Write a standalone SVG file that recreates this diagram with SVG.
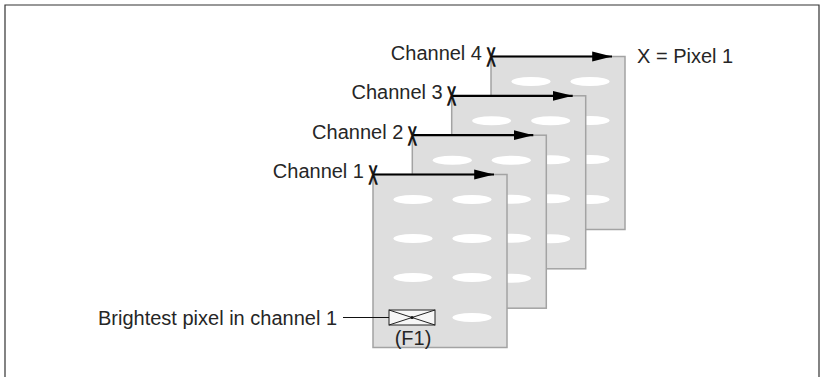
<svg xmlns="http://www.w3.org/2000/svg" width="824" height="377" viewBox="0 0 824 377">
<defs>
<style>
.t{font-family:"Liberation Sans",Arial,sans-serif;font-size:20px;fill:#262626}
.x{font-family:"Liberation Sans",Arial,sans-serif;font-size:26px;fill:#111;stroke:#111;stroke-width:1.4;text-anchor:middle}
.panel{fill:#dedede;stroke:#a3a3a3;stroke-width:1.5}
.dot{fill:#ffffff}
.arrow{stroke:#000;stroke-width:2.2;fill:none;marker-end:url(#ah)}
</style>
<marker id="ah" markerWidth="10" markerHeight="6" refX="9" refY="3" orient="auto" markerUnits="strokeWidth">
<path d="M0,0.75 L9,3 L0,5.25 Z" fill="#000"/>
</marker>
<g id="pix">
<ellipse cx="40" cy="25" rx="19.5" ry="4.5" class="dot"/>
<ellipse cx="99" cy="25" rx="19.5" ry="4.5" class="dot"/>
<ellipse cx="40" cy="64" rx="19.5" ry="4.5" class="dot"/>
<ellipse cx="99" cy="64" rx="19.5" ry="4.5" class="dot"/>
<ellipse cx="40" cy="103" rx="19.5" ry="4.5" class="dot"/>
<ellipse cx="99" cy="103" rx="19.5" ry="4.5" class="dot"/>
<ellipse cx="40" cy="143" rx="19.5" ry="4.5" class="dot"/>
<ellipse cx="99" cy="143" rx="19.5" ry="4.5" class="dot"/>
</g>
</defs>
<rect x="0" y="0" width="824" height="377" fill="#fff"/>
<path d="M5,380 V5 H819 V380" fill="none" stroke="#333" stroke-width="1.2"/>

<g id="channel4">
<rect class="panel" x="491" y="56.5" width="134" height="173"/>
<use href="#pix" x="491" y="56.5"/>
</g>
<g id="channel3">
<rect class="panel" x="451.7" y="95.8" width="134" height="173"/>
<use href="#pix" x="451.7" y="95.8"/>
</g>
<g id="channel2">
<rect class="panel" x="412.3" y="135.2" width="134" height="173"/>
<use href="#pix" x="412.3" y="135.2"/>
</g>
<g id="channel1">
<rect class="panel" x="373" y="174.5" width="134" height="173"/>
<ellipse cx="413" cy="199.5" rx="19.5" ry="4.5" class="dot"/>
<ellipse cx="472" cy="199.5" rx="19.5" ry="4.5" class="dot"/>
<ellipse cx="413" cy="238.5" rx="19.5" ry="4.5" class="dot"/>
<ellipse cx="472" cy="238.5" rx="19.5" ry="4.5" class="dot"/>
<ellipse cx="413" cy="277.5" rx="19.5" ry="4.5" class="dot"/>
<ellipse cx="472" cy="277.5" rx="19.5" ry="4.5" class="dot"/>
<ellipse cx="472" cy="317.5" rx="19.5" ry="4.5" class="dot"/>
<g id="brightest">
<rect x="389" y="310" width="46" height="15" fill="#f6f6f6" stroke="#222" stroke-width="1"/>
<path d="M389,310 L435,325 M389,325 L435,310" stroke="#222" stroke-width="1"/>
<circle cx="412" cy="317.5" r="1.6" fill="#111"/>
<text class="t" x="413" y="345" text-anchor="middle">(F1)</text>
</g>
</g>

<g id="connectors">
<line class="arrow" x1="491" y1="56.5" x2="612" y2="56.5"/>
<line class="arrow" x1="451.7" y1="95.8" x2="572.7" y2="95.8"/>
<line class="arrow" x1="412.3" y1="135.2" x2="533.3" y2="135.2"/>
<line class="arrow" x1="373" y1="174.5" x2="494" y2="174.5"/>
<line x1="343" y1="317.5" x2="389" y2="317.5" stroke="#111" stroke-width="1.2"/>
</g>

<g id="labels">
<text class="t" x="482" y="60" text-anchor="end">Channel 4</text>
<text class="t" x="442.7" y="99.3" text-anchor="end">Channel 3</text>
<text class="t" x="403.3" y="138.7" text-anchor="end">Channel 2</text>
<text class="t" x="364" y="178" text-anchor="end">Channel 1</text>
<text class="t" x="637" y="62.5">X = Pixel 1</text>
<text class="t" x="98" y="325">Brightest pixel in channel 1</text>
<text class="x" transform="translate(491,66) scale(0.5,1)">X</text>
<text class="x" transform="translate(451.7,105.3) scale(0.5,1)">X</text>
<text class="x" transform="translate(412.3,144.7) scale(0.5,1)">X</text>
<text class="x" transform="translate(373,184) scale(0.5,1)">X</text>
</g>
</svg>
